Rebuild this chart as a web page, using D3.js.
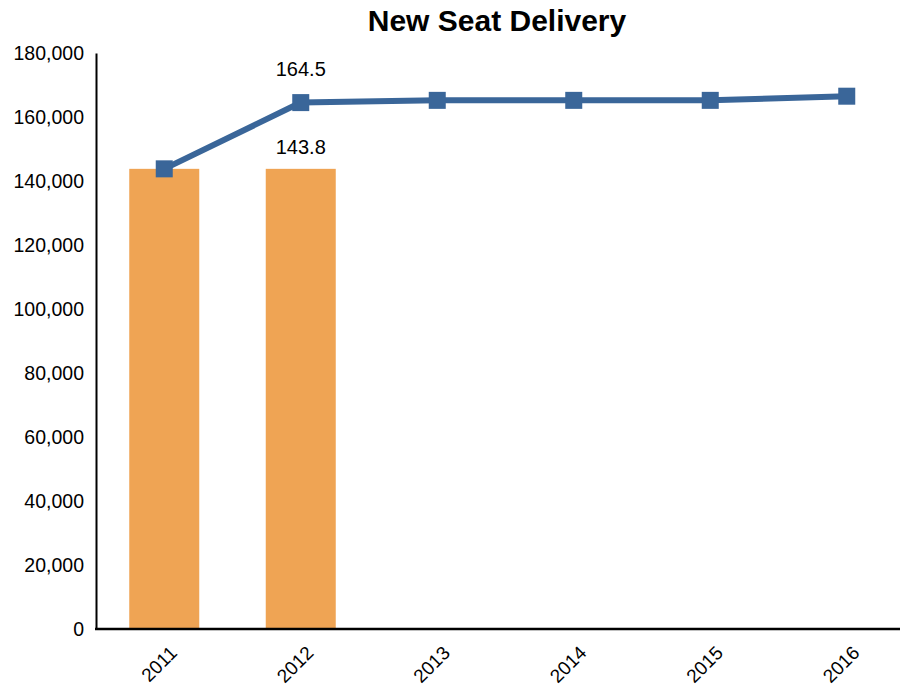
<!DOCTYPE html>
<html><head><meta charset="utf-8">
<script src="https://cdn.jsdelivr.net/npm/d3@7"></script>
<style>body{margin:0;background:#fff;font-family:"Liberation Sans",Arial,sans-serif;}</style>
</head><body><svg id="c" width="900" height="690"></svg>
<script>
const years = ["2011","2012","2013","2014","2015","2016"];
const barValues = [143800, 143800, null, null, null, null];
const lineValues = [143800, 164500, 165200, 165200, 165200, 166500];
const barLabels = ["", "143.8"];
const lineLabels = ["", "164.5"];
const yTicks = [0,20000,40000,60000,80000,100000,120000,140000,160000,180000];

const svg = d3.select("#c");
const x = d3.scaleBand().domain(years).range([96, 915]).paddingInner(0).paddingOuter(0);
const y = d3.scaleLinear().domain([0,180000]).range([629, 53]);
const bw = 70;
const FF = "Liberation Sans, Arial, sans-serif";

svg.append("text").attr("x",497).attr("y",31).attr("text-anchor","middle")
  .attr("font-size",30).attr("font-weight","bold").attr("font-family",FF).text("New Seat Delivery");

// bars
svg.selectAll("rect.bar").data(years.map((d,i)=>({d,v:barValues[i]})).filter(o=>o.v!=null))
  .enter().append("rect").attr("x",o=>x(o.d)+x.bandwidth()/2-bw/2).attr("width",bw)
  .attr("y",o=>y(o.v)).attr("height",o=>y(0)-y(o.v)).attr("fill","#EFA454");

// y axis
const ya = svg.append("g").attr("transform","translate(96,0)")
  .call(d3.axisLeft(y).tickValues(yTicks).tickSize(0).tickPadding(12).tickFormat(d3.format(",")));
ya.select(".domain").attr("stroke","#000").attr("stroke-width",2);
ya.selectAll("text").attr("font-size",19.5).attr("font-family",FF).attr("fill","#000");

// x axis
svg.append("line").attr("x1",95).attr("x2",900).attr("y1",629).attr("y2",629).attr("stroke","#000").attr("stroke-width",2.5);
const xa = svg.append("g").attr("transform","translate(0,629)")
  .call(d3.axisBottom(x).tickSize(0).tickPadding(0));
xa.select(".domain").remove();
xa.selectAll("text").attr("font-size",19).attr("font-family",FF).attr("fill","#000")
  .attr("text-anchor","end").attr("dy",0).attr("transform","translate(14,25) rotate(-45)");

// line
const pts = years.map((d,i)=>[x(d)+x.bandwidth()/2, y(lineValues[i])]);
svg.append("path").attr("d",d3.line()(pts)).attr("fill","none").attr("stroke","#3A6699").attr("stroke-width",6);
svg.selectAll("rect.m").data(pts).enter().append("rect").attr("x",p=>p[0]-8.5).attr("y",p=>p[1]-8.5)
  .attr("width",17).attr("height",17).attr("fill","#3A6699");

// labels
years.forEach((d,i)=>{
  if(lineLabels[i]) svg.append("text").attr("x",x(d)+x.bandwidth()/2).attr("y",y(lineValues[i])-27)
    .attr("text-anchor","middle").attr("font-size",20).attr("font-family",FF).text(lineLabels[i]);
  if(barLabels[i]) svg.append("text").attr("x",x(d)+x.bandwidth()/2).attr("y",y(barValues[i])-15)
    .attr("text-anchor","middle").attr("font-size",20).attr("font-family",FF).text(barLabels[i]);
});
</script></body></html>
